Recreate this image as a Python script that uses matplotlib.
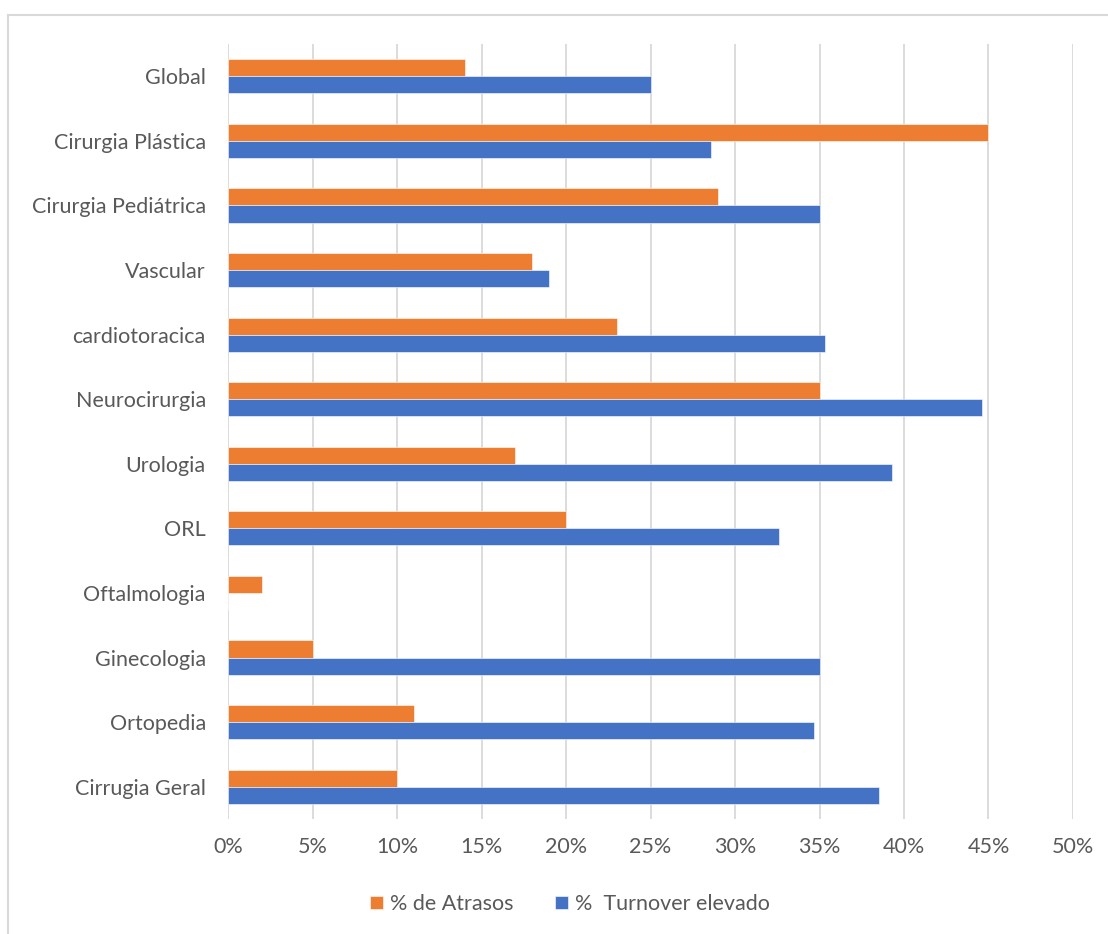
import numpy as np
import matplotlib.pyplot as plt
from matplotlib.patches import Rectangle

# especialidades (de cima para baixo)
especialidades = ['Global', 'Cirurgia Plástica', 'Cirurgia Pediátrica', 'Vascular',
                  'cardiotoracica', 'Neurocirurgia', 'Urologia', 'ORL',
                  'Oftalmologia', 'Ginecologia', 'Ortopedia', 'Cirrugia Geral']
atrasos = [14, 45, 29, 18, 23, 35, 17, 20, 2, 5, 11, 10]
turnover = [25, 28.6, 35, 19, 35.3, 44.6, 39.3, 32.6, 0, 35, 34.7, 38.5]
ticks_x = [0, 5, 10, 15, 20, 25, 30, 35, 40, 45, 50]

plt.rcParams['font.family'] = ['Lato', 'DejaVu Sans']

W, H = 1108, 934
fig = plt.figure(figsize=(W / 100, H / 100), dpi=100)
ax = fig.add_axes([228 / W, 1 - 819 / H, (1073 - 228) / W, (819 - 44) / H])

# moldura do gráfico (só esquerda e topo aparecem)
fig.patches.append(Rectangle((8 / W, -0.1), 1.2, 1 - 15 / H + 0.1,
                             transform=fig.transFigure, fill=False,
                             edgecolor='#d9d9d9', linewidth=1.5))

y = np.arange(len(especialidades))
h = 0.265
ax.barh(y - h / 2, atrasos, height=h, color='#ED7D31', edgecolor='white',
        linewidth=0.4, label='% de Atrasos', zorder=3)
ax.barh(y + h / 2, turnover, height=h, color='#4472C4', edgecolor='white',
        linewidth=0.4, label='%  Turnover elevado', zorder=3)

ax.set_ylim(len(especialidades) - 0.5, -0.5)
ax.set_xlim(0, 50)
ax.set_yticks(y)
ax.set_yticklabels(especialidades)
ax.set_xticks(ticks_x)
ax.set_xticklabels([f'{t}%' for t in ticks_x])
ax.tick_params(axis='both', length=0, labelsize=15.5, colors='#595959')
ax.tick_params(axis='y', pad=16)
ax.tick_params(axis='x', pad=13)
ax.grid(axis='x', color='#d9d9d9', linewidth=1.3, zorder=0)
for s in ax.spines.values():
    s.set_visible(False)

leg = fig.legend(loc='center', bbox_to_anchor=(570 / W, 1 - 904 / H), ncol=2,
                 frameon=False, fontsize=15.5, handlelength=0.6, handleheight=0.6,
                 handletextpad=0.35, columnspacing=1.9)
for t in leg.get_texts():
    t.set_color('#595959')

fig.savefig('out.png', dpi=100)
